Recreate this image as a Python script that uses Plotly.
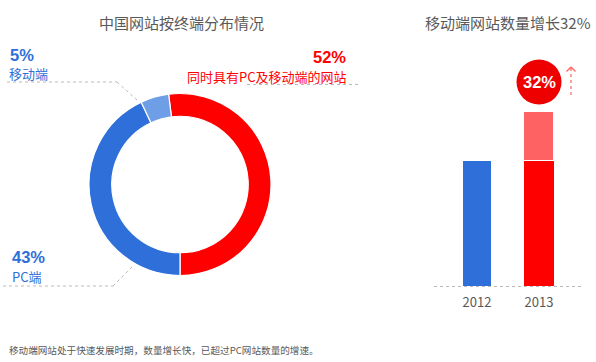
import plotly.graph_objects as go

W, H = 596, 362

# ---- data ----
pie_labels = ["同时具有PC及移动端的网站", "PC端", "移动端"]
pie_values = [52, 43, 5]
pie_colors = ["#FF0000", "#2E6FD9", "#6E9FE6"]

years = ["2012", "2013"]
base_values = [100, 100]
increase_values = [0, 39]
growth_label = "32%"

title_left = "中国网站按终端分布情况"
title_right = "移动端网站数量增长32%"
footer = "移动端网站处于快速发展时期，数量增长快，已超过PC网站数量的增速。"

FONT = "Noto Sans CJK SC, Microsoft YaHei, sans-serif"
NUMFONT = "Liberation Sans, Arial, sans-serif"

def px(x):
    return x / W

def py(y):
    return 1 - y / H

fig = go.Figure()

# donut
fig.add_trace(go.Pie(
    labels=pie_labels, values=pie_values, sort=False, direction="clockwise",
    rotation=-7.2, hole=0.75, textinfo="none", hoverinfo="label+percent",
    marker=dict(colors=pie_colors, line=dict(color="white", width=1.2)),
    domain=dict(x=[px(89), px(271)], y=[py(275.5), py(93.5)]),
    showlegend=False,
))

# bars
fig.add_trace(go.Bar(
    x=years, y=base_values, width=[0.45, 0.48],
    marker=dict(color=["#2E6FD9", "#FF0000"], line=dict(width=0)),
    showlegend=False,
))
fig.add_trace(go.Bar(
    x=years, y=increase_values, width=[0.45, 0.48],
    marker=dict(color="#FF6262", line=dict(color="white", width=1.5)),
    showlegend=False,
))

fig.update_layout(
    width=W, height=H, margin=dict(l=0, r=0, t=0, b=0),
    paper_bgcolor="white", plot_bgcolor="white",
    barmode="stack", bargap=0,
    font=dict(family=FONT, color="#595959"),
    xaxis=dict(domain=[px(434), px(583)], range=[-0.694, 1.71], type="category",
               showgrid=False, zeroline=False, showline=False, ticks="",
               ticklabelstandoff=7,
               tickfont=dict(size=13, color="#595959")),
    yaxis=dict(domain=[py(286), py(100)], range=[0, 148.8], visible=False,
               showgrid=False, zeroline=False),
)

lead = dict(color="#BBBBBB", width=1, dash="dot")
shapes = [
    # baseline of bar chart
    dict(type="line", xref="paper", yref="paper", x0=px(434), x1=px(583),
         y0=py(286.5), y1=py(286.5), line=dict(color="#BBBBBB", width=1.2, dash="dot")),
    # leader lines
    dict(type="line", xref="paper", yref="paper", x0=px(7), x1=px(117), y0=py(82), y1=py(82), line=lead),
    dict(type="line", xref="paper", yref="paper", x0=px(117), x1=px(137), y0=py(82), y1=py(100), line=lead),
    dict(type="line", xref="paper", yref="paper", x0=px(247), x1=px(358), y0=py(84.5), y1=py(84.5), line=lead),
    dict(type="line", xref="paper", yref="paper", x0=px(3), x1=px(113), y0=py(286), y1=py(286), line=lead),
    dict(type="line", xref="paper", yref="paper", x0=px(113), x1=px(133), y0=py(286), y1=py(266), line=lead),
    # growth circle
    dict(type="circle", xref="paper", yref="paper", xsizemode="pixel", ysizemode="pixel",
         xanchor=px(539), yanchor=py(82), x0=-22.5, x1=22.5, y0=-22.5, y1=22.5,
         fillcolor="#EE0000", line=dict(width=0)),
    # arrow
    dict(type="line", xref="paper", yref="paper", x0=px(571), x1=px(571), y0=py(95), y1=py(67),
         line=dict(color="#FF6262", width=1.2, dash="dot")),
    dict(type="line", xref="paper", yref="paper", x0=px(566.5), x1=px(571), y0=py(71.5), y1=py(67),
         line=dict(color="#FF6262", width=1.2)),
    dict(type="line", xref="paper", yref="paper", x0=px(575.5), x1=px(571), y0=py(71.5), y1=py(67),
         line=dict(color="#FF6262", width=1.2)),
]
fig.update_layout(shapes=shapes)

def ann(text, x, y, size, color, xanchor="left", bold=False, family=FONT):
    t = f"<b>{text}</b>" if bold else text
    fig.add_annotation(text=t, x=px(x), y=py(y), xref="paper", yref="paper",
                       xanchor=xanchor, yanchor="middle", showarrow=False,
                       borderpad=0,
                       font=dict(size=size, color=color, family=family))

ann(title_left, 181, 22.5, 15, "#595959", xanchor="center")
ann(title_right, 508, 22.5, 15, "#595959", xanchor="center")

ann(f"{pie_values[2]}%", 9, 54.5, 16.5, "#2E6FD9", bold=True, family=NUMFONT)
ann(pie_labels[2], 8, 73.5, 13, "#2E6FD9")
ann(f"{pie_values[0]}%", 347, 57, 16.5, "#FF0000", xanchor="right", bold=True, family=NUMFONT)
ann(pie_labels[0], 348, 76, 13, "#FF0000", xanchor="right")
ann(f"{pie_values[1]}%", 11, 257, 16.5, "#2E6FD9", bold=True, family=NUMFONT)
ann(pie_labels[1], 11, 276, 13, "#2E6FD9")

ann(growth_label, 539, 82, 16.5, "white", xanchor="center", bold=True, family=NUMFONT)

ann(footer, 8, 350, 9.6, "#595959")

fig.write_html("out.html")
